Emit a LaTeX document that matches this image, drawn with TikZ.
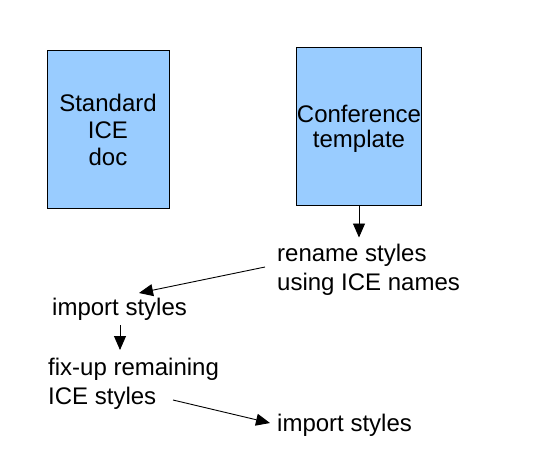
\documentclass[tikz,border=0pt]{standalone}
\usepackage{fontspec}
\setmainfont{Liberation Sans}
\usetikzlibrary{arrows.meta,calc}
\begin{document}
\begin{tikzpicture}[x=1pt,y=-1pt,
  docbox/.style={draw=black,line width=1pt,fill=boxblue,minimum width=122pt,inner sep=0pt,align=center},
  lbl/.style={inner sep=0pt,align=left,anchor=west,font=\fontsize{24}{29}\selectfont},
  conn/.style={line width=0.9pt,-{Triangle[length=14pt,width=12pt]}}]
\definecolor{boxblue}{HTML}{99CCFF}
\useasboundingbox (0,0) rectangle (534,468);
\node[docbox,minimum height=157pt,font=\fontsize{24}{27}\selectfont] (std) at (108,129.5) {Standard\\ICE\\doc};
\node[docbox,minimum height=157pt,font=\fontsize{24}{25}\selectfont] (conf) at (359,126.5) {\raisebox{-3pt}[\height][\depth]{\begin{tabular}{@{}c@{}}Conference\\template\end{tabular}}};
\node[lbl] (ren) at (277,269.5) {rename styles\\using ICE names};
\node[lbl] (imp1) at (52,309) {import styles};
\node[lbl] (fix) at (48,384) {fix-up remaining\\ICE styles};
\node[lbl] (imp2) at (277,425) {import styles};
\draw[conn] (conf.south) -- ($(conf.south)+(0,32)$);
\draw[conn] ($(ren.west)+(-12,-2.5)$) -- ($(imp1.west)+(87,-16)$);
\draw[conn] ($(imp1.west)+(68,16)$) -- ($(fix.west)+(72,-34)$);
\draw[conn] ($(fix.west)+(125,16)$) -- ($(imp2.west)+(-7,-2)$);
\end{tikzpicture}
\end{document}
